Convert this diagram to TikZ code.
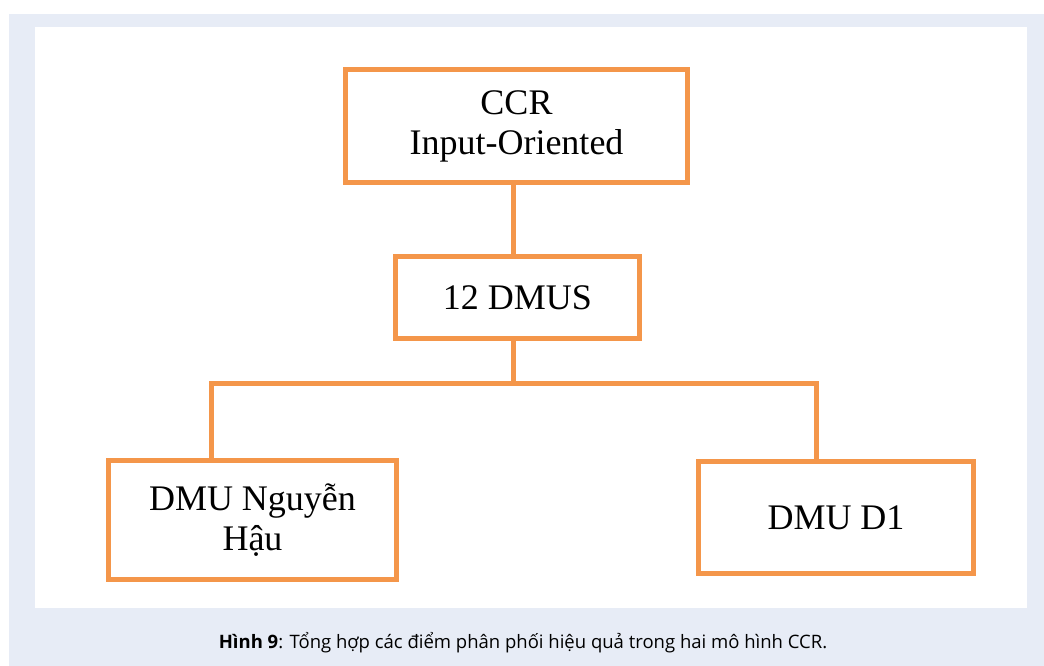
\documentclass[tikz,border=0pt]{standalone}
\usepackage{fontspec}
\setmainfont{Liberation Serif}
\newfontfamily\capfont{Open Sans}
\definecolor{boxorange}{HTML}{F4964A}
\definecolor{panelblue}{HTML}{E7ECF6}
\begin{document}
\begin{tikzpicture}[x=1pt,y=-1pt,
  orgbox/.style={draw=boxorange, line width=5pt, fill=white, inner sep=0pt,
    align=center, font=\fontsize{36}{40}\selectfont},
  link/.style={draw=boxorange, line width=5pt}]
\useasboundingbox (0,0) rectangle (1044,666);
\fill[white] (0,0) rectangle (1044,666);
\fill[panelblue] (9,14) rectangle (1044,666);
\fill[white] (35,27) rectangle (1027,608);

\node[orgbox, minimum width=342pt, minimum height=113pt] (ccr) at (516.5,126) {CCR\\Input-Oriented};
\node[orgbox, minimum width=244pt, minimum height=82pt] (dmus) at (517.5,297.5) {12 DMUS};
\node[orgbox, minimum width=288pt, minimum height=119pt] (ng) at (252.5,520) {DMU Nguyễn\\Hậu};
\node[orgbox, minimum width=274.5pt, minimum height=112pt] (d1) at (836,517.5) {DMU D1};

\coordinate (jn) at (513,383);
\coordinate (hl) at (211,383);
\coordinate (hr) at (816,383);
\draw[link] (ccr.south -| jn) -- (dmus.north -| jn);
\draw[link] (dmus.south -| jn) -- (jn);
\draw[link, line cap=rect] (hl) -- (hr);
\draw[link] (hl) -- (hl |- ng.north);
\draw[link] (hr) -- (hr |- d1.north);

\node[font=\capfont\fontsize{18.5}{22}\selectfont, inner sep=0pt] (cap) at (523,643)
  {\textbf{Hình 9}: Tổng hợp các điểm phân phối hiệu quả trong hai mô hình CCR.};
\end{tikzpicture}
\end{document}
